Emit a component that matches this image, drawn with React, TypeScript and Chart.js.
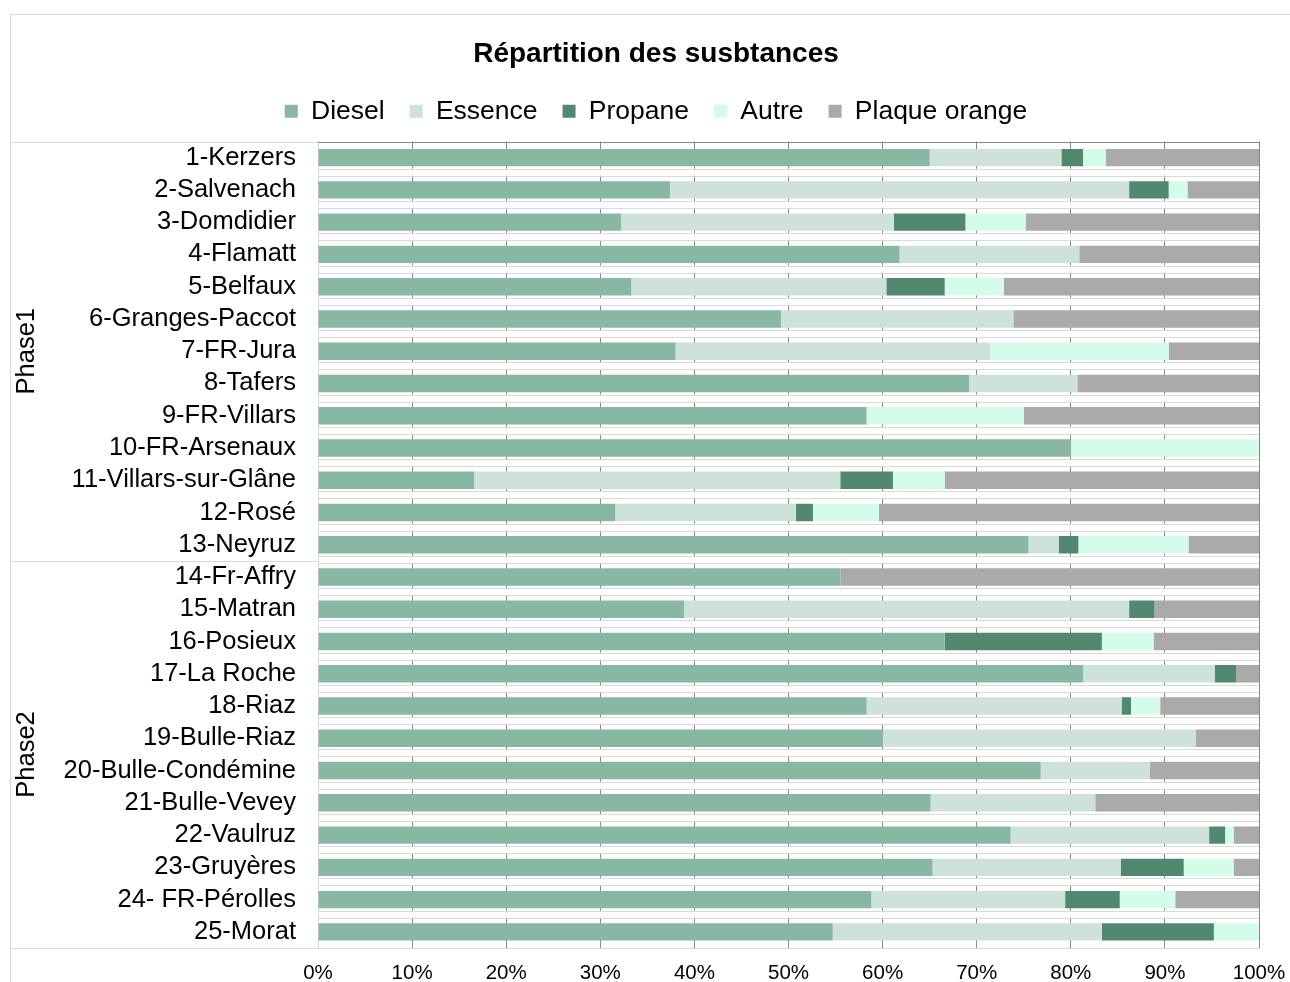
import { useEffect, useRef } from 'react';
import { Chart, registerables } from 'chart.js';

Chart.register(...registerables);

const FONT = '"Liberation Sans", Arial, Helvetica, sans-serif';

const categories = [
  '1-Kerzers', '2-Salvenach', '3-Domdidier', '4-Flamatt', '5-Belfaux',
  '6-Granges-Paccot', '7-FR-Jura', '8-Tafers', '9-FR-Villars', '10-FR-Arsenaux',
  '11-Villars-sur-Glâne', '12-Rosé', '13-Neyruz', '14-Fr-Affry', '15-Matran',
  '16-Posieux', '17-La Roche', '18-Riaz', '19-Bulle-Riaz', '20-Bulle-Condémine',
  '21-Bulle-Vevey', '22-Vaulruz', '23-Gruyères', '24- FR-Pérolles', '25-Morat',
];

const diesel = [65.0, 37.4, 32.2, 61.8, 33.3, 49.2, 38.0, 69.2, 58.3, 80.0, 16.6, 31.6, 75.5,
  55.5, 38.9, 66.6, 81.3, 58.3, 60.0, 76.8, 65.1, 73.6, 65.3, 58.8, 54.7];
const essence = [14.0, 48.8, 29.0, 19.1, 27.1, 24.7, 33.4, 11.5, 0, 0, 38.9, 19.2, 3.2,
  0, 47.3, 0, 14.0, 27.1, 33.3, 11.6, 17.5, 21.1, 20.0, 20.6, 28.6];
const propane = [2.3, 4.2, 7.6, 0, 6.2, 0, 0, 0, 0, 0, 5.6, 1.8, 2.1,
  0, 2.7, 16.7, 2.3, 1.0, 0, 0, 0, 1.7, 6.7, 5.8, 11.9];
const autre = [2.4, 2.0, 6.4, 0, 6.3, 0, 19.0, 0, 16.7, 20.0, 5.5, 7.0, 11.7,
  0, 0, 5.5, 0, 3.1, 0, 0, 0, 0.9, 5.3, 5.9, 4.8];
const plaque = [16.3, 7.6, 24.8, 19.1, 27.1, 26.1, 9.6, 19.3, 25.0, 0, 33.4, 40.4, 7.5,
  44.5, 11.1, 11.2, 2.4, 10.5, 6.7, 11.6, 17.4, 2.7, 2.7, 8.9, 0];

const seriesNames = ['Diesel', 'Essence', 'Propane', 'Autre', 'Plaque orange'];
const seriesColors = ['#88b8a3', '#cde2d9', '#50896e', '#d3fde9', '#aaaaaa'];

const phaseLabels = ['Phase1', 'Phase2'];
const phaseStart = [0, 13];
const phaseEnd = [12, 24];

const xTickValues = [0, 10, 20, 30, 40, 50, 60, 70, 80, 90, 100];

const LIGHT = '#d9d9d9';
const DARK = '#878787';
const CLEAR = 'rgba(0,0,0,0)';

const legendSpacer = {
  id: 'legendSpacer',
  beforeInit(chart: any) {
    const lg = chart.legend;
    if (!lg || lg.__patched) return;
    const orig = lg.fit;
    lg.fit = function () {
      orig.call(this);
      this.height += 7;
    };
    lg.__patched = true;
  },
};

const decor = {
  id: 'decor',
  beforeDraw(chart: any) {
    const ctx = chart.ctx;
    ctx.save();
    ctx.strokeStyle = LIGHT;
    ctx.lineWidth = 1;
    ctx.strokeRect(10.5, 14.5, 3000, 3000);
    ctx.restore();
  },
  afterDatasetsDraw(chart: any) {
    const { ctx, chartArea } = chart;
    const y = chart.scales.y;
    ctx.save();
    for (let i = 0; i < categories.length - 1; i++) {
      const b = (y.getPixelForValue(i) + y.getPixelForValue(i + 1)) / 2;
      ctx.fillStyle = '#ffffff';
      ctx.fillRect(chartArea.left + 1, b - 5, chartArea.right - chartArea.left - 1, 7);
      ctx.strokeStyle = LIGHT;
      ctx.lineWidth = 1;
      ctx.beginPath();
      ctx.moveTo(chartArea.left, Math.round(b - 5) + 0.5);
      ctx.lineTo(chartArea.right, Math.round(b - 5) + 0.5);
      ctx.moveTo(chartArea.left, Math.round(b + 2) + 0.5);
      ctx.lineTo(chartArea.right, Math.round(b + 2) + 0.5);
      ctx.stroke();
    }
    ctx.strokeStyle = DARK;
    ctx.beginPath();
    ctx.moveTo(chartArea.left, Math.round(chartArea.top) + 0.5);
    ctx.lineTo(chartArea.right, Math.round(chartArea.top) + 0.5);
    ctx.stroke();
    ctx.restore();
  },
  afterDraw(chart: any) {
    const { ctx, chartArea } = chart;
    const y = chart.scales.y;
    ctx.save();
    ctx.strokeStyle = LIGHT;
    ctx.lineWidth = 1;
    const hLine = (yy: number) => {
      ctx.beginPath();
      ctx.moveTo(11, Math.round(yy) + 0.5);
      ctx.lineTo(chartArea.left, Math.round(yy) + 0.5);
      ctx.stroke();
    };
    hLine(chartArea.top);
    hLine(chartArea.bottom);
    for (let p = 0; p < phaseLabels.length - 1; p++) {
      const b = (y.getPixelForValue(phaseEnd[p]) + y.getPixelForValue(phaseStart[p + 1])) / 2;
      hLine(b);
    }
    ctx.fillStyle = '#000000';
    ctx.font = `25.5px ${FONT}`;
    ctx.textAlign = 'center';
    ctx.textBaseline = 'middle';
    const half = (y.getPixelForValue(1) - y.getPixelForValue(0)) / 2;
    for (let p = 0; p < phaseLabels.length; p++) {
      const top = y.getPixelForValue(phaseStart[p]) - half;
      const bot = y.getPixelForValue(phaseEnd[p]) + half;
      ctx.save();
      ctx.translate(27, (top + bot) / 2);
      ctx.rotate(-Math.PI / 2);
      ctx.fillText(phaseLabels[p], 0, 0);
      ctx.restore();
    }
    ctx.restore();
  },
};

export default function App() {
  const canvasRef = useRef<HTMLCanvasElement | null>(null);

  useEffect(() => {
    document.body.style.margin = '0';
    const canvas = canvasRef.current;
    if (!canvas) return;
    const values = [diesel, essence, propane, autre, plaque];
    const chart = new Chart(canvas, {
      type: 'bar',
      data: {
        labels: categories,
        datasets: seriesNames.map((name, i) => ({
          label: name,
          data: values[i],
          backgroundColor: seriesColors[i],
          borderWidth: 0,
          barPercentage: 0.54,
          categoryPercentage: 1,
        })),
      },
      options: {
        indexAxis: 'y',
        responsive: false,
        animation: false,
        devicePixelRatio: 1,
        layout: { padding: { left: 53, right: 31, top: 0, bottom: 0 } },
        plugins: {
          title: {
            display: true,
            text: 'Répartition des susbtances',
            color: '#000000',
            font: { family: FONT, size: 28, weight: 'bold', lineHeight: 1 },
            padding: { top: 40, bottom: 5 },
          },
          legend: {
            display: true,
            position: 'top',
            labels: {
              color: '#000000',
              font: { family: FONT, size: 26.5 },
              boxWidth: 13,
              boxHeight: 13,
              padding: 25,
            },
          },
          tooltip: { enabled: false },
        },
        scales: {
          x: {
            stacked: true,
            min: 0,
            max: 100,
            afterBuildTicks: (scale: any) => {
              scale.ticks = xTickValues.map((v) => ({ value: v }));
            },
            afterFit: (scale: any) => {
              scale.height = 34;
            },
            ticks: {
              color: '#000000',
              font: { family: FONT, size: 20.5 },
              padding: 4,
              maxRotation: 0,
              autoSkip: false,
              callback: (v: any) => `${v}%`,
            },
            grid: {
              display: true,
              drawTicks: true,
              tickLength: 9,
              tickColor: CLEAR,
              color: (c: any) => (c.index === 0 ? CLEAR : DARK),
              lineWidth: 1,
            },
            border: { display: true, color: LIGHT, width: 1 },
          },
          y: {
            stacked: true,
            afterFit: (scale: any) => {
              scale.width = 265;
            },
            ticks: {
              color: '#000000',
              font: { family: FONT, size: 25.5 },
              padding: 0,
              autoSkip: false,
            },
            grid: {
              display: true,
              drawOnChartArea: false,
              drawTicks: true,
              tickLength: 22,
              tickColor: CLEAR,
              color: CLEAR,
            },
            border: { display: true, color: LIGHT, width: 1 },
          },
        },
      },
      plugins: [legendSpacer, decor],
    } as any);
    return () => chart.destroy();
  }, []);

  return (
    <div style={{ width: 1290, height: 982, position: 'relative', background: '#ffffff' }}>
      <canvas ref={canvasRef} width={1290} height={982} style={{ display: 'block' }} />
    </div>
  );
}
